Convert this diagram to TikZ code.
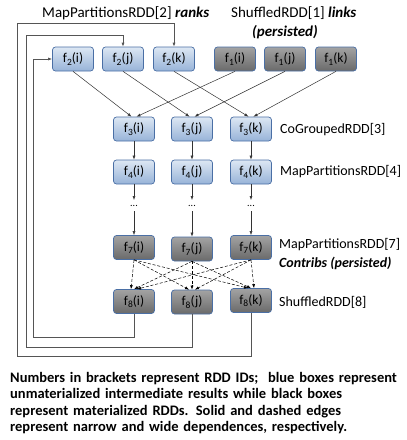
\documentclass[tikz,border=0pt]{standalone}
\usepackage{fontspec}
\setmainfont{Carlito}
\usetikzlibrary{arrows.meta}
\definecolor{bluetop}{HTML}{DDE7F3}
\definecolor{bluebot}{HTML}{97B3D8}
\definecolor{blueedge}{HTML}{4A6FA5}
\definecolor{graytop}{HTML}{A3A3A3}
\definecolor{graybot}{HTML}{6A6A6A}
\definecolor{loopcol}{HTML}{555555}
\newcommand{\fx}[2]{f\raisebox{-0.4ex}{\fontsize{9.5}{9.5}\selectfont #1}(#2)}
\tikzset{
  rdd/.style={draw=blueedge, line width=0.7pt, rounded corners=3pt, minimum width=41pt, minimum height=24pt, inner sep=0pt, font=\fontsize{13.5}{13.5}\selectfont},
  bluebox/.style={rdd, top color=bluetop, bottom color=bluebot},
  graybox/.style={rdd, top color=graytop, bottom color=graybot},
  narrow/.style={-{Latex[length=4pt,width=3pt]}, line width=0.5pt, black!80},
  wide/.style={-{Latex[length=4pt,width=3pt]}, line width=0.5pt, dash pattern=on 3pt off 1.8pt, black},
  looparrow/.style={-{Latex[length=4pt,width=3pt]}, line width=0.7pt, loopcol},
  lbl/.style={anchor=west, inner sep=0pt, font=\fontsize{15}{15}\selectfont},
  rlbl/.style={anchor=west, inner sep=0pt, font=\fontsize{14}{14}\selectfont},
  dotsnode/.style={inner sep=0pt, font=\fontsize{10}{10}\selectfont},
}
\begin{document}
\begin{tikzpicture}[x=1pt,y=-1pt]
\useasboundingbox[fill=white] (0,0) rectangle (407,440);

% row 1
\node[bluebox] (f2i) at (73,59) {\fx{2}{i}};
\node[bluebox] (f2j) at (123,59) {\fx{2}{j}};
\node[bluebox] (f2k) at (174,59) {\fx{2}{k}};
\node[graybox] (f1i) at (235,59) {\fx{1}{i}};
\node[graybox] (f1j) at (285,59) {\fx{1}{j}};
\node[graybox] (f1k) at (336,59) {\fx{1}{k}};

% row 3
\node[bluebox] (f3i) at (134,129) {\fx{3}{i}};
\node[bluebox] (f3j) at (192,129) {\fx{3}{j}};
\node[bluebox] (f3k) at (251,129) {\fx{3}{k}};
% row 4
\node[bluebox] (f4i) at (134,172) {\fx{4}{i}};
\node[bluebox] (f4j) at (192,172) {\fx{4}{j}};
\node[bluebox] (f4k) at (251,172) {\fx{4}{k}};
% dots
\node[dotsnode] (di) at (134,206) {...};
\node[dotsnode] (dj) at (192,206) {...};
\node[dotsnode] (dk) at (251,206) {...};
% row 7
\node[graybox] (f7i) at (134,247.5) {\fx{7}{i}};
\node[graybox] (f7j) at (192,249) {\fx{7}{j}};
\node[graybox] (f7k) at (251,247.5) {\fx{7}{k}};
% row 8
\node[graybox] (f8i) at (134,301.5) {\fx{8}{i}};
\node[graybox] (f8j) at (192,302) {\fx{8}{j}};
\node[graybox] (f8k) at (251,300.5) {\fx{8}{k}};

% labels
\node[lbl] (l2) at (42,13) {MapPartitionsRDD[2] \textbf{\textit{ranks}}};
\node[lbl] (l1) at (231,13) {ShuffledRDD[1] \textbf{\textit{links}}};
\node[inner sep=0pt, font=\fontsize{15}{15}\selectfont] (l1b) at (285,32) {\textbf{\textit{(persisted)}}};
\node[rlbl] (l3) at (280,130) {CoGroupedRDD[3]};
\node[rlbl] (l4) at (280,172) {MapPartitionsRDD[4]};
\node[rlbl] (l7) at (279,245) {MapPartitionsRDD[7]};
\node[rlbl] (l7b) at (279,263) {\textbf{\textit{Contribs (persisted)}}};
\node[rlbl] (l8) at (279,302) {ShuffledRDD[8]};

% join edges
\foreach \c in {i,j,k}{
  \draw[narrow] (f2\c.south) -- ([xshift=-2.5pt]f3\c.north);
  \draw[narrow] (f1\c.south) -- ([xshift=2.5pt]f3\c.north);
  \draw[narrow] (f3\c) -- (f4\c);
  \draw[narrow] (f4\c) -- ([yshift=6pt]d\c.center);
  \draw[narrow] ([yshift=-5pt]d\c.center) -- (f7\c);
}
% wide dependencies
\foreach \s/\o in {i/-3,j/0,k/3}{
  \foreach \t in {i,j,k}{
    \draw[wide] (f7\s.south) -- ([xshift=\o pt]f8\t.north);
  }
}

% feedback loops
\coordinate (a1) at (134,337);
\coordinate (a2) at (33,337);
\coordinate (a3) at (33,59);
\draw[looparrow] (f8i.south) |- (a1) -- (a2) -- (a3) -- (f2i.west);
\coordinate (b1) at (192,347);
\coordinate (b2) at (26,347);
\coordinate (b3) at (26,35);
\coordinate (b4) at (123,35);
\draw[looparrow] (f8j.south) -- (b1) -- (b2) -- (b3) -- (b4) -- (f2j.north);
\coordinate (c1) at (251,356);
\coordinate (c2) at (17,356);
\coordinate (c3) at (17,23);
\coordinate (c4) at (174,23);
\draw[looparrow] (f8k.south) -- (c1) -- (c2) -- (c3) -- (c4) -- (f2k.north);

% caption
\node[anchor=north west, inner sep=0pt, text width=400pt, align=left,
  font=\fontsize{14.5}{16.5}\selectfont\bfseries] (cap) at (10,372)
  {Numbers in brackets represent RDD IDs;\ \ blue boxes represent\\
   unmaterialized intermediate results while black boxes\\
   represent materialized RDDs. Solid and dashed edges\\
   represent narrow and wide dependences, respectively.};
\end{tikzpicture}
\end{document}
